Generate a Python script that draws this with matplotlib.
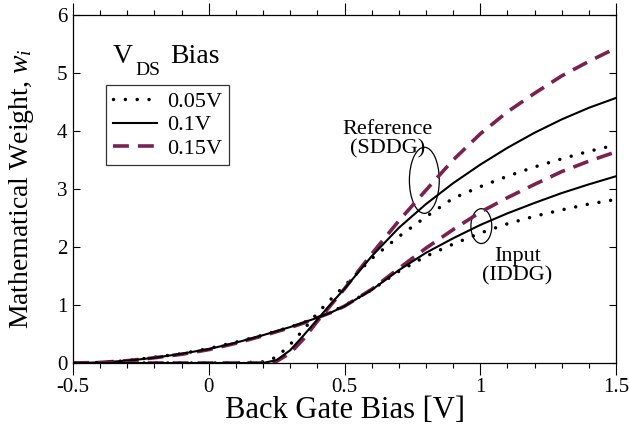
import numpy as np
import matplotlib
matplotlib.use("Agg")
import matplotlib.pyplot as plt
from matplotlib.patches import Ellipse
from matplotlib.ticker import MultipleLocator

plt.rcParams['font.family'] = 'Liberation Serif'
plt.rcParams['mathtext.fontset'] = 'custom'
plt.rcParams['mathtext.rm'] = 'Liberation Serif'
plt.rcParams['mathtext.it'] = 'Liberation Serif:italic'
plt.rcParams['axes.unicode_minus'] = False

# back gate bias [V]
vbg = [-0.5, -0.4, -0.3, -0.2, -0.1, 0.0, 0.1, 0.2, 0.25, 0.3, 0.35, 0.4, 0.45,
       0.5, 0.6, 0.7, 0.8, 0.9, 1.0, 1.1, 1.2, 1.3, 1.4, 1.5]

# input (IDDG) weights
in_005 = [0, 0.01, 0.04, 0.10, 0.16, 0.25, 0.36, 0.48, 0.55, 0.62, 0.70, 0.79, 0.88,
          0.99, 1.26, 1.58, 1.84, 2.05, 2.24, 2.40, 2.53, 2.64, 2.74, 2.82]
in_010 = [0, 0.01, 0.04, 0.09, 0.16, 0.24, 0.35, 0.48, 0.55, 0.62, 0.70, 0.78, 0.87,
          0.98, 1.26, 1.60, 1.90, 2.15, 2.38, 2.58, 2.76, 2.93, 3.08, 3.22]
in_015 = [0, 0.01, 0.04, 0.09, 0.15, 0.23, 0.34, 0.47, 0.54, 0.61, 0.69, 0.78, 0.87,
          0.98, 1.27, 1.63, 1.98, 2.30, 2.60, 2.85, 3.08, 3.30, 3.48, 3.64]

# reference (SDDG) weights
ref_005 = [0, 0, 0, 0, 0, 0, 0, 0.02, 0.10, 0.32, 0.58, 0.86, 1.10,
           1.33, 1.80, 2.18, 2.52, 2.84, 3.04, 3.22, 3.38, 3.52, 3.65, 3.76]
ref_010 = [0, 0, 0, 0, 0, 0, 0, 0.0, 0.05, 0.22, 0.48, 0.75, 1.02,
           1.28, 1.84, 2.33, 2.74, 3.10, 3.42, 3.71, 3.97, 4.20, 4.40, 4.57]
ref_015 = [0, 0, 0, 0, 0, 0, 0, 0.0, 0.03, 0.17, 0.42, 0.72, 1.00,
           1.28, 1.88, 2.45, 2.98, 3.50, 3.95, 4.33, 4.65, 4.95, 5.20, 5.43]

maroon = '#7b2150'
dot = dict(color='black', lw=2.5, linestyle=(0, (0.01, 3.4)), dash_capstyle='round')
solid = dict(color='black', lw=1.5)
dash = dict(color=maroon, lw=2.6, linestyle=(0, (4.4, 2.5)))

fig = plt.figure(figsize=(6.3, 4.26), dpi=100)
ax = fig.add_axes([0.1159, 0.1479, 0.8619, 0.8169])

ax.plot(vbg, in_005, **dot)
ax.plot(vbg, in_015, **dash)
ax.plot(vbg, in_010, **solid)
l1, = ax.plot(vbg, ref_005, label='0.05V', **dot)
l3, = ax.plot(vbg, ref_015, label='0.15V', **dash)
l2, = ax.plot(vbg, ref_010, label='0.1V', **solid)

ax.set_xlim(-0.5, 1.5)
ax.set_ylim(0, 6)
ax.xaxis.set_minor_locator(MultipleLocator(0.1))
ax.yaxis.set_major_locator(MultipleLocator(1))
ax.set_xticks([-0.5, 0, 0.5, 1, 1.5])
ax.set_xticklabels(['-0.5', '0', '0.5', '1', '1.5'])
ax.tick_params(which='both', top=True, right=True, labelsize=15, width=0.8)
ax.tick_params(axis='x', which='both', direction='out', pad=2)
ax.tick_params(axis='x', which='major', length=8.5)
ax.tick_params(axis='x', which='minor', length=3.6)
ax.tick_params(axis='y', which='major', direction='in', length=5, pad=4)
for s in ax.spines.values():
    s.set_linewidth(0.9)

ax.set_xlabel('Back Gate Bias [V]', fontsize=22, va='top')
ax.xaxis.set_label_coords(0.5, -0.096)
ax.set_ylabel('Mathematical Weight, $w_i$', fontsize=20)
ax.yaxis.set_label_coords(-0.068, 0.5)

# annotations
ax.add_patch(Ellipse((0.794, 3.15), 0.11, 1.14, fill=False, lw=0.9, color='black'))
ax.text(0.658, 3.86, 'Reference\n(SDDG)', ha='center', va='center', fontsize=16, linespacing=1.0)
ax.add_patch(Ellipse((1.004, 2.36), 0.077, 0.6, fill=False, lw=0.9, color='black'))
ax.text(1.136, 1.67, 'Input\n(IDDG)', ha='center', va='center', fontsize=16, linespacing=1.0)

# legend title drawn outside the frame
ax.text(0.0737, 0.862, 'V', fontsize=20, transform=ax.transAxes, va='baseline')
ax.text(0.114, 0.828, 'DS', fontsize=14, transform=ax.transAxes, va='baseline')
ax.text(0.1786, 0.862, 'Bias', fontsize=20, transform=ax.transAxes, va='baseline')
leg = ax.legend(handles=[l1, l2, l3], loc='upper left', bbox_to_anchor=(0.0608, 0.799),
                fontsize=16, frameon=True, fancybox=False, edgecolor='black',
                handlelength=2.0, handletextpad=0.45, labelspacing=0.12, borderpad=0.3,
                borderaxespad=0)
leg.get_frame().set_linewidth(0.9)

fig.savefig('out.png', dpi=100)
